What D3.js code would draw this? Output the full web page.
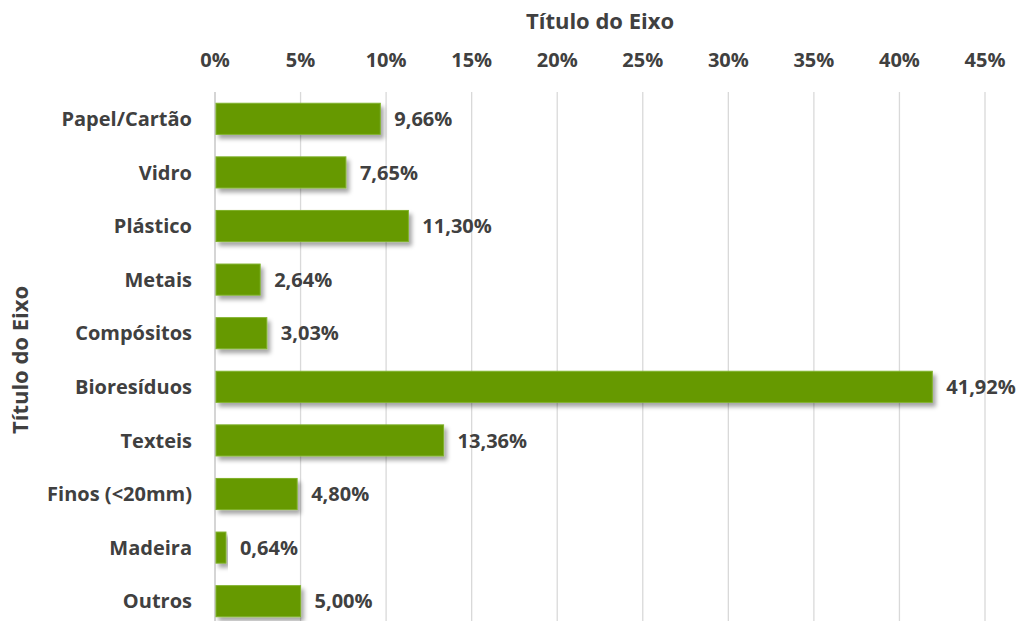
<!DOCTYPE html>
<html>
<head>
<meta charset="utf-8">
<script src="https://cdn.jsdelivr.net/npm/d3@7"></script>
<style>
  body { margin:0; background:#fff; }
  text { font-family: "Open Sans", Lato, sans-serif; font-weight:700; fill:#404040; }
</style>
</head>
<body>
<div id="chart"></div>
<script>
// categories and values (percent)
var categories = ["Papel/Cartão","Vidro","Plástico","Metais","Compósitos","Bioresíduos","Texteis","Finos (<20mm)","Madeira","Outros"]
var values = [9.66, 7.65, 11.30, 2.64, 3.03, 41.92, 13.36, 4.80, 0.64, 5.00]
var ticks = [0,5,10,15,20,25,30,35,40,45]
var axisTitle = "Título do Eixo"

var W = 1022, H = 621
var m = {top:92, left:215, right:37, bottom:-7}

var svg = d3.select("#chart").append("svg").attr("width", W).attr("height", H)

var defs = svg.append("defs")
var f = defs.append("filter").attr("id","shadow").attr("x","-10%").attr("y","-30%").attr("width","130%").attr("height","180%")
f.append("feDropShadow").attr("dx",3).attr("dy",4).attr("stdDeviation",2.2).attr("flood-color","#000").attr("flood-opacity",0.35)

var x = d3.scaleLinear().domain([0,45]).range([m.left, W - m.right])
var y = d3.scaleBand().domain(categories).range([m.top, H - m.bottom]).paddingInner(0.42).paddingOuter(0.21)

// gridlines
svg.append("g").selectAll("line").data(ticks).enter().append("line")
  .attr("x1", d => x(d)).attr("x2", d => x(d))
  .attr("y1", m.top).attr("y2", H)
  .attr("stroke", d => d == 0 ? "#bfbfbf" : "#d9d9d9").attr("stroke-width", 1.3)

// top tick labels
svg.append("g").selectAll("text").data(ticks).enter().append("text")
  .attr("x", d => x(d)).attr("y", 67)
  .attr("text-anchor","middle").style("font-size","20px")
  .text(d => d + "%")

// bars
svg.append("g").selectAll("rect").data(values).enter().append("rect")
  .attr("x", x(0)+1)
  .attr("y", (d,i) => y(categories[i]))
  .attr("width", d => x(d) - x(0) - 1)
  .attr("height", y.bandwidth())
  .attr("fill", "#669900")
  .attr("stroke", "#7fb12a").attr("stroke-width", 1)
  .attr("filter","url(#shadow)")

// value labels
svg.append("g").selectAll("text").data(values).enter().append("text")
  .attr("x", d => x(d) + 14)
  .attr("y", (d,i) => y(categories[i]) + y.bandwidth()/2)
  .attr("dy","0.36em").style("font-size","20px")
  .text(d => d.toFixed(2).replace(".", ",") + "%")

// category labels
svg.append("g").selectAll("text").data(categories).enter().append("text")
  .attr("x", 192)
  .attr("y", d => y(d) + y.bandwidth()/2)
  .attr("dy","0.36em").attr("text-anchor","end").style("font-size","20px")
  .text(d => d)

// axis titles
svg.append("text").attr("x", x(22.5)).attr("y", 29).attr("text-anchor","middle")
  .style("font-size","22px").text(axisTitle)
var cy = (m.top + H - m.bottom) / 2
svg.append("text").attr("transform", "translate(28," + cy + ") rotate(-90)")
  .attr("text-anchor","middle").style("font-size","22px").text(axisTitle)
</script>
</body>
</html>
